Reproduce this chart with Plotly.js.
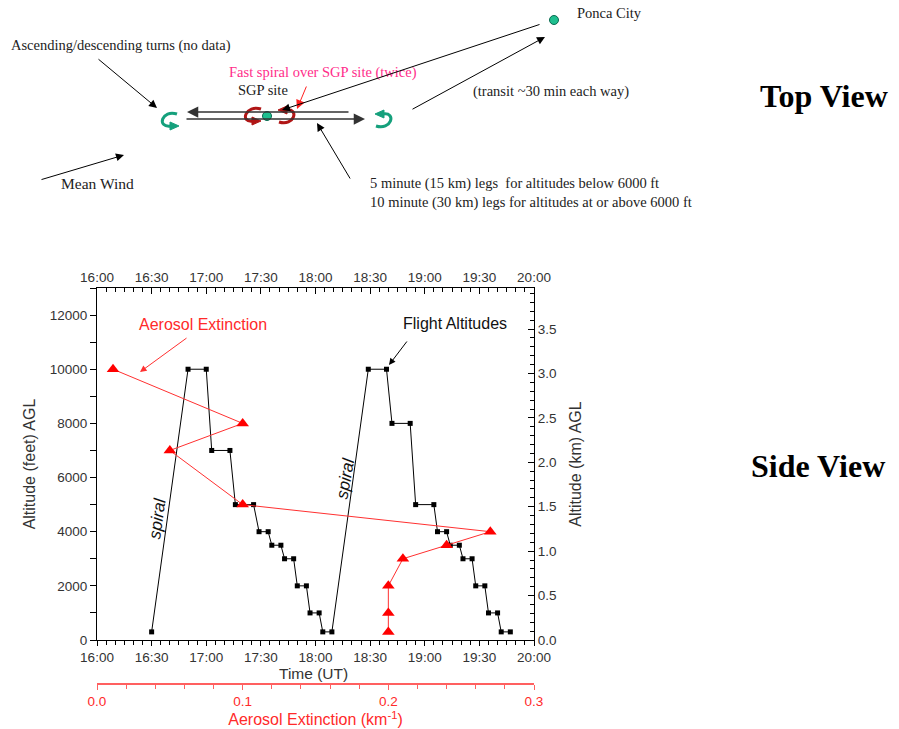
<!DOCTYPE html>
<html>
<head>
<meta charset="utf-8">
<script src="https://cdn.plot.ly/plotly-3.0.1.min.js"></script>
<style>html,body{margin:0;padding:0;background:#fff;}#chart{width:899px;height:729px;}</style>
</head>
<body>
<div id="chart"></div>
<script>
// ---------------- data ----------------
const flightTime = ['16:30','16:50','17:00','17:03','17:13','17:16','17:26','17:29','17:34','17:36','17:41','17:43','17:48','17:50','17:55','17:57','18:02','18:04','18:09',
                    '18:29','18:39','18:42','18:52','18:55','19:05','19:07','19:12','19:14','19:19','19:21','19:26','19:28','19:33','19:35','19:40','19:42','19:47'];
const flightAlt  = [300,10000,10000,7000,7000,5000,5000,4000,4000,3500,3500,3000,3000,2000,2000,1000,1000,300,300,
                    10000,10000,8000,8000,5000,5000,4000,4000,3500,3500,3000,3000,2000,2000,1000,1000,300,300];
const extValue   = [0.011,0.1,0.05,0.1,0.27,0.24,0.21,0.2,0.2,0.2];
const extAlt     = [10000,8000,7000,5000,4000,3500,3000,2000,1000,300];
const timeRange  = ['16:00','20:00'];
const extRange   = [0,0.3];
const ftRange    = [0,13000];

const day = '2000-01-01 ';
const toDate = t => day + t + ':00';
const kmRange = ftRange.map(v => v*0.3048/1000);

// ---------------- geometry helpers (pixel -> paper) ----------------
const PL=97, PR=534, PT=288, PB=683;
const X = px => (px-PL)/(PR-PL);
const Y = py => (PB-py)/(PB-PT);
function path(s){
  const tok = s.trim().split(/\s+/); let out=[]; let isX=true;
  for(const t of tok){
    if(/^[A-Za-z]$/.test(t)){ out.push(t); isX=true; }
    else { const v=parseFloat(t); out.push(isX? X(v).toFixed(5) : Y(v).toFixed(5)); isX=!isX; }
  }
  return out.join(' ');
}
const sans = 'Liberation Sans, Arial, sans-serif';
const serif = 'Liberation Serif, Times New Roman, serif';
function txt(x,y,text,o){ o=o||{}; return {xref:'paper',yref:'paper',x:X(x),y:Y(y),text:text,showarrow:false,
  xanchor:o.xa||'center',yanchor:o.ya||'middle',textangle:o.angle||0,
  font:{family:o.family||serif,size:o.size||14.5,color:o.color||'#222'}}; }
function arrow(hx,hy,tx,ty,color,width,size){ return {xref:'paper',yref:'paper',x:X(hx),y:Y(hy),ax:tx-hx,ay:ty-hy,
  axref:'pixel',ayref:'pixel',text:'',showarrow:true,arrowhead:2,arrowsize:size||1.6,arrowwidth:width||1,
  arrowcolor:color||'#000',standoff:0,startstandoff:0}; }

const green='#15a07c', dred='#b01515';
function arcShape(d,color){ return {type:'path',xref:'paper',yref:'paper',path:path(d),line:{color:color,width:3}}; }
function headShape(d,color){ return {type:'path',xref:'paper',yref:'paper',path:path(d),fillcolor:color,line:{color:color,width:1}}; }
function dot(cx,cy,r,color){ return {type:'circle',xref:'paper',yref:'paper',x0:X(cx-r),x1:X(cx+r),y0:Y(cy+r),y1:Y(cy-r),
  fillcolor:color,line:{color:'#0a6a50',width:1}}; }

const shapes = [
  arcShape('M 177 114 C 162 109 156 128 171 126', green), headShape('M 170 122 L 179 126 L 170 130 Z', green),
  arcShape('M 376 126 C 391 131 397 112 383 114', green), headShape('M 384 110 L 375 114 L 384 118 Z', green),
  arcShape('M 261 109 C 246 104 239 123 253 121', dred), headShape('M 252 117 L 261 121 L 252 125 Z', dred),
  arcShape('M 279 122 C 294 127 300 108 286 110', dred), headShape('M 287 106 L 278 110 L 287 114 Z', dred),
  dot(267,116,4.5,'#1fbf8f'),
  dot(554,20,4.5,'#1fbf8f')
];

const annotations = [
  // top view
  txt(121,45,'Ascending/descending turns (no data)'),
  arrow(157,108,97,58),
  arrow(187,112,350,112,'#333',1.5,1.5),
  arrow(365,119,185,119,'#333',1.5,1.5),
  txt(263,90,'SGP site'),
  txt(323,72,'Fast spiral over SGP site (twice)',{color:'#ff2d8a'}),
  arrow(297,109,307,85,'#ff2020',1,1.8),
  arrow(282,110,541,24),
  arrow(545,37,411,110),
  txt(575,13,'Ponca City',{xa:'left'}),
  txt(551,91,'(transit ~30 min each way)'),
  arrow(317,123,351,180),
  txt(368,184,'5 minute (15 km) legs  for altitudes below 6000 ft',{xa:'left'}),
  txt(368,202,'10 minute (30 km) legs for altitudes at or above 6000 ft',{xa:'left'}),
  arrow(124,155,40,180),
  txt(97,184,'Mean Wind',{size:15.5}),
  txt(824,96,'<b>Top View</b>',{size:32,color:'#000'}),
  txt(818,466,'<b>Side View</b>',{size:32,color:'#000'}),
  // side view
  txt(203,324,'Aerosol Extinction',{family:sans,size:16,color:'#ff2a2a'}),
  arrow(140,372,188,337,'#ff3030',1,1.3),
  txt(455,323,'Flight Altitudes',{family:sans,size:16,color:'#111'}),
  arrow(389,365,408,340,'#000',1,1.3),
  txt(157,518,'<i>spiral</i>',{family:sans,size:17,color:'#111',angle:-82}),
  txt(345,478,'<i>spiral</i>',{family:sans,size:17,color:'#111',angle:-80}),
  txt(313,673,'Time (UT)',{family:sans,size:15.5,color:'#333'})
];

const tickFont = {family:sans,size:13.5,color:'#333'};
const titleFont = {family:sans,size:16,color:'#333'};
const red = '#ff2a2a';

const traces = [
  {x:flightTime.map(toDate), y:flightAlt, xaxis:'x', yaxis:'y', type:'scatter', mode:'lines+markers',
   line:{color:'#000',width:1}, marker:{symbol:'square',size:5,color:'#000'}, hoverinfo:'x+y'},
  {x:extValue, y:extAlt, xaxis:'x3', yaxis:'y', type:'scatter', mode:'lines+markers',
   line:{color:'#ff3030',width:1}, marker:{symbol:'triangle-up',size:11,color:'#ff0000'}, hoverinfo:'x+y'},
  {x:[toDate(timeRange[0])], y:[0], xaxis:'x2', yaxis:'y', type:'scatter', mode:'markers', marker:{opacity:0}, hoverinfo:'skip'},
  {x:[toDate(timeRange[0])], y:[0], xaxis:'x', yaxis:'y2', type:'scatter', mode:'markers', marker:{opacity:0}, hoverinfo:'skip'}
];

const timeAxisBase = {type:'date', range:timeRange.map(toDate), tick0:toDate('16:00'), dtick:1800000, tickformat:'%H:%M',
  showgrid:false, zeroline:false, showline:true, linecolor:'#000', linewidth:1, tickcolor:'#000', tickfont:tickFont};

const layout = {
  width:899, height:729, margin:{l:PL, r:899-PR, t:PT, b:729-PB}, paper_bgcolor:'#fff', plot_bgcolor:'#fff',
  showlegend:false,
  xaxis: Object.assign({}, timeAxisBase, {anchor:'y', side:'bottom', ticks:'outside', ticklen:5,
    minor:{dtick:300000, tick0:toDate('16:00'), ticks:'outside', ticklen:4, tickcolor:'#000', showgrid:false}}),
  xaxis2: Object.assign({}, timeAxisBase, {anchor:'y', overlaying:'x', side:'top', ticks:'inside', ticklen:6,
    minor:{dtick:300000, tick0:toDate('16:00'), ticks:'inside', ticklen:4, tickcolor:'#000', showgrid:false}}),
  xaxis3: {range:extRange, anchor:'free', position:0, overlaying:'x', side:'bottom', showgrid:false, zeroline:false,
    showline:true, linecolor:'#ff6060', linewidth:1.5, ticks:'outside', ticklen:5, tickcolor:'#ff6060', dtick:0.1, tick0:0,
    tickformat:'.1f', tickfont:{family:sans,size:13.5,color:red},
    minor:{dtick:0.02, ticks:'outside', ticklen:4, tickcolor:'#ff6060', showgrid:false},
    title:{text:'Aerosol Extinction (km<sup>-1</sup>)', font:{family:sans,size:16,color:red}, standoff:0}},
  yaxis: {domain:[(PB-640)/(PB-PT),1], range:ftRange, anchor:'x', side:'left', showgrid:false, zeroline:false,
    showline:true, linecolor:'#000', linewidth:1, ticks:'outside', ticklen:6, tickcolor:'#000', dtick:2000, tick0:0,
    tickformat:'d', tickfont:tickFont, minor:{dtick:1000, ticks:'outside', ticklen:6, tickcolor:'#000', showgrid:false},
    title:{text:'Altitude (feet) AGL', font:titleFont, standoff:10}},
  yaxis2: {range:kmRange, overlaying:'y', anchor:'x', side:'right', showgrid:false, zeroline:false,
    showline:true, linecolor:'#000', linewidth:1, ticks:'inside', ticklen:6, tickcolor:'#000', dtick:0.5, tick0:0,
    tickformat:'.1f', tickfont:tickFont, minor:{dtick:0.1, ticks:'inside', ticklen:4, tickcolor:'#000', showgrid:false},
    title:{text:'Altitude (km) AGL', font:titleFont, standoff:14}},
  shapes:shapes, annotations:annotations
};

Plotly.newPlot('chart', traces, layout, {displayModeBar:false, staticPlot:true});
</script>
</body>
</html>
